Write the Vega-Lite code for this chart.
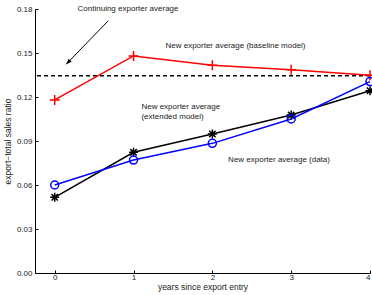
{
  "$schema": "https://vega.github.io/schema/vega-lite/v6.json",
  "width": 335,
  "height": 264,
  "autosize": {"type": "none"},
  "padding": {"left": 35, "top": 9, "right": 2, "bottom": 22},
  "background": "white",
  "config": {
    "view": {"stroke": null},
    "font": "Liberation Sans",
    "axis": {"grid": false, "domainColor": "#000", "tickColor": "#000", "labelColor": "#222", "titleColor": "#222", "labelFont": "Liberation Sans", "titleFont": "Liberation Sans", "labelFontSize": 8, "titleFontSize": 8.5, "titleFontWeight": "normal", "domainWidth": 1}
  },
  "datasets": {
    "series": [
      {"year": 0, "ratio": 0.118, "series": "baseline"},
      {"year": 1, "ratio": 0.148, "series": "baseline"},
      {"year": 2, "ratio": 0.1416, "series": "baseline"},
      {"year": 3, "ratio": 0.1385, "series": "baseline"},
      {"year": 4, "ratio": 0.1348, "series": "baseline"},
      {"year": 0, "ratio": 0.0516, "series": "extended"},
      {"year": 1, "ratio": 0.0823, "series": "extended"},
      {"year": 2, "ratio": 0.0948, "series": "extended"},
      {"year": 3, "ratio": 0.1077, "series": "extended"},
      {"year": 4, "ratio": 0.1243, "series": "extended"},
      {"year": 0, "ratio": 0.060, "series": "data"},
      {"year": 1, "ratio": 0.077, "series": "data"},
      {"year": 2, "ratio": 0.0884, "series": "data"},
      {"year": 3, "ratio": 0.105, "series": "data"},
      {"year": 4, "ratio": 0.1305, "series": "data"}
    ],
    "labels": [
      {"year": 0.29, "ratio": 0.18, "text": "Continuing exporter average"},
      {"year": 1.405, "ratio": 0.155, "text": "New exporter average (baseline model)"},
      {"year": 1.1, "ratio": 0.113, "text": "New exporter average"},
      {"year": 1.1, "ratio": 0.1066, "text": "(extended model)"},
      {"year": 2.2, "ratio": 0.0768, "text": "New exporter average (data)"}
    ],
    "arrow": [
      {"year": 0.68, "ratio": 0.172, "year2": 0.145, "ratio2": 0.1423}
    ]
  },
  "layer": [
    {
      "data": {"values": [{"ratio": 0.1345}]},
      "mark": {"type": "rule", "color": "#000", "strokeWidth": 1.5, "strokeDash": [4, 3]},
      "encoding": {"y": {"field": "ratio", "type": "quantitative", "scale": {"domain": [0, 0.18]}}}
    },
    {
      "data": {"name": "series"},
      "mark": {"type": "line", "strokeWidth": 1.5},
      "encoding": {
        "x": {"field": "year", "type": "quantitative", "scale": {"domain": [-0.25, 4], "nice": false, "zero": false},
          "axis": {"values": [0, 1, 2, 3, 4], "format": "d", "title": "years since export entry", "tickSize": -3, "labelPadding": 3, "titlePadding": 1}},
        "y": {"field": "ratio", "type": "quantitative", "scale": {"domain": [0, 0.18], "nice": false},
          "axis": {"values": [0, 0.03, 0.06, 0.09, 0.12, 0.15, 0.18], "format": ".2f", "title": "export−total sales ratio", "tickSize": -3, "labelPadding": 6, "titlePadding": 4}},
        "color": {"field": "series", "type": "nominal", "scale": {"domain": ["baseline", "extended", "data"], "range": ["#ff0000", "#000000", "#0000ff"]}, "legend": null},
        "detail": {"field": "series"}
      }
    },
    {
      "data": {"name": "series"},
      "mark": {"type": "point", "filled": false, "strokeWidth": 1.5, "opacity": 1},
      "encoding": {
        "x": {"field": "year", "type": "quantitative"},
        "y": {"field": "ratio", "type": "quantitative"},
        "color": {"field": "series", "type": "nominal", "legend": null},
        "shape": {"field": "series", "type": "nominal", "scale": {"domain": ["baseline", "extended", "data"], "range": ["M-1,0L1,0M0,-1L0,1", "M-1,0L1,0M0,-1L0,1M-0.7,-0.7L0.7,0.7M-0.7,0.7L0.7,-0.7", "circle"]}, "legend": null},
        "size": {"field": "series", "type": "nominal", "scale": {"domain": ["baseline", "extended", "data"], "range": [100, 64, 81]}, "legend": null}
      }
    },
    {
      "data": {"name": "labels"},
      "mark": {"type": "text", "align": "left", "baseline": "middle", "fontSize": 8, "color": "#222", "font": "Liberation Sans"},
      "encoding": {
        "x": {"field": "year", "type": "quantitative"},
        "y": {"field": "ratio", "type": "quantitative"},
        "text": {"field": "text"}
      }
    },
    {
      "data": {"name": "arrow"},
      "mark": {"type": "rule", "color": "#000", "strokeWidth": 1},
      "encoding": {
        "x": {"field": "year", "type": "quantitative"},
        "y": {"field": "ratio", "type": "quantitative"},
        "x2": {"field": "year2"},
        "y2": {"field": "ratio2"}
      }
    },
    {
      "data": {"name": "arrow"},
      "mark": {"type": "point", "filled": true, "color": "#000", "opacity": 1, "shape": "M0,0L-0.45,1.2L0.45,1.2Z", "size": 90, "angle": 225},
      "encoding": {
        "x": {"field": "year2", "type": "quantitative"},
        "y": {"field": "ratio2", "type": "quantitative"}
      }
    }
  ]
}
